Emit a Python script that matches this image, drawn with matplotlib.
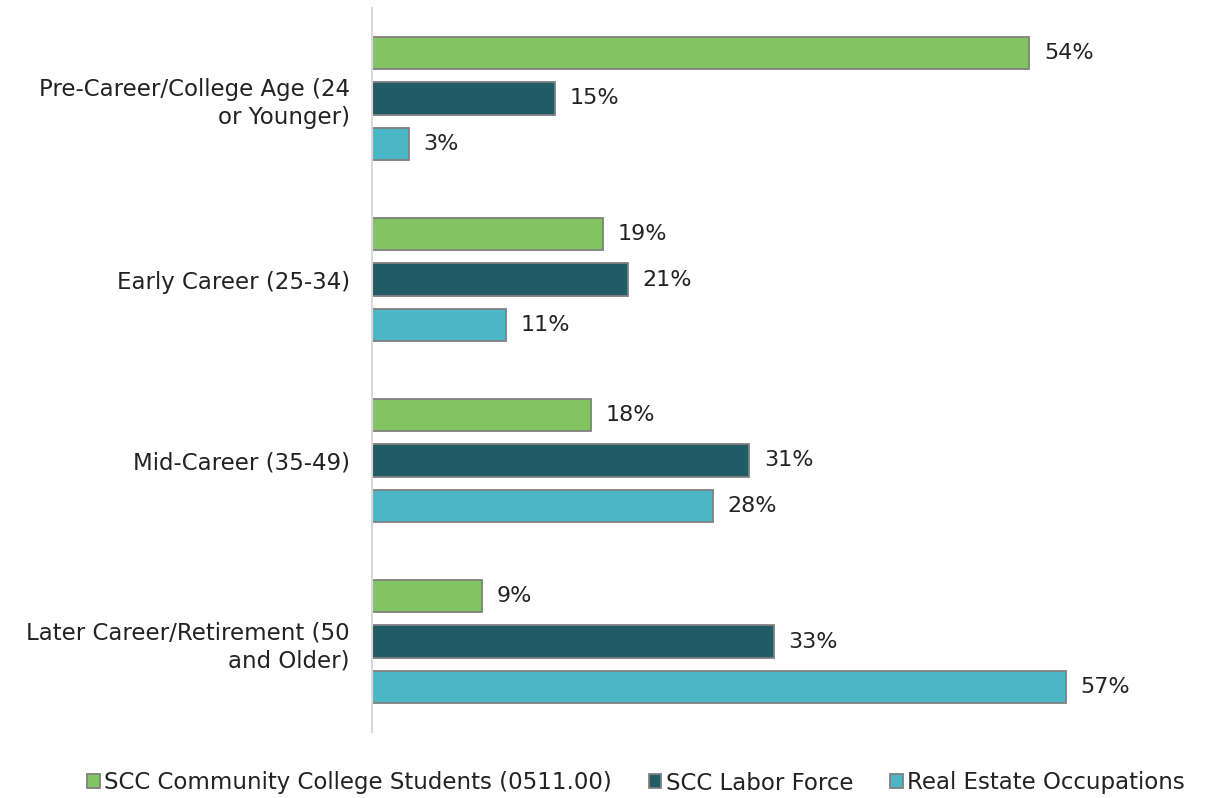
import matplotlib.pyplot as plt
import numpy as np

plt.rcParams['font.family'] = ['DejaVu Sans']

categories = ['Pre-Career/College Age (24\nor Younger)', 'Early Career (25-34)',
              'Mid-Career (35-49)', 'Later Career/Retirement (50\nand Older)']
series = ['SCC Community College Students (0511.00)', 'SCC Labor Force', 'Real Estate Occupations']
students = [54, 19, 18, 9]
labor = [15, 21, 31, 33]
real_estate = [3, 11, 28, 57]
colors = ['#82C462', '#215B66', '#4BB6C6']

fig = plt.figure(figsize=(12.09, 7.98), dpi=100)
ax = fig.add_axes([372 / 1209, 1 - 732 / 798, (1190 - 372) / 1209, (732 - 8) / 798])

y = np.arange(len(categories))
step = 0.25
for k, (vals, name) in enumerate(zip([students, labor, real_estate], series)):
    pos = y + (k - 1) * step
    ax.barh(pos, vals, height=0.177, color=colors[k], edgecolor='#808080',
            linewidth=1.3, label=name)
    for p, v in zip(pos, vals):
        ax.text(v + 1.2, p, f'{v}%', va='center', ha='left', fontsize=16, color='#222222')

ax.set_xlim(0, 67.2)
ax.set_ylim(3.5, -0.5)
ax.set_yticks(y)
ax.set_yticklabels(categories, fontsize=16.5, color='#222222', ha='right', linespacing=1.3)
ax.tick_params(axis='y', length=0, pad=16)
ax.set_xticks([])
for s in ['top', 'right', 'bottom']:
    ax.spines[s].set_visible(False)
ax.spines['left'].set_color('#d9d9d9')
ax.spines['left'].set_linewidth(1.5)

fig.legend(loc='center', bbox_to_anchor=(0.526, 1 - 783 / 798), ncol=3, frameon=False,
           fontsize=16.5, handlelength=0.55, handleheight=0.55, handletextpad=0.2,
           columnspacing=1.6, labelcolor='#222222')

fig.savefig('out.png', dpi=100)
